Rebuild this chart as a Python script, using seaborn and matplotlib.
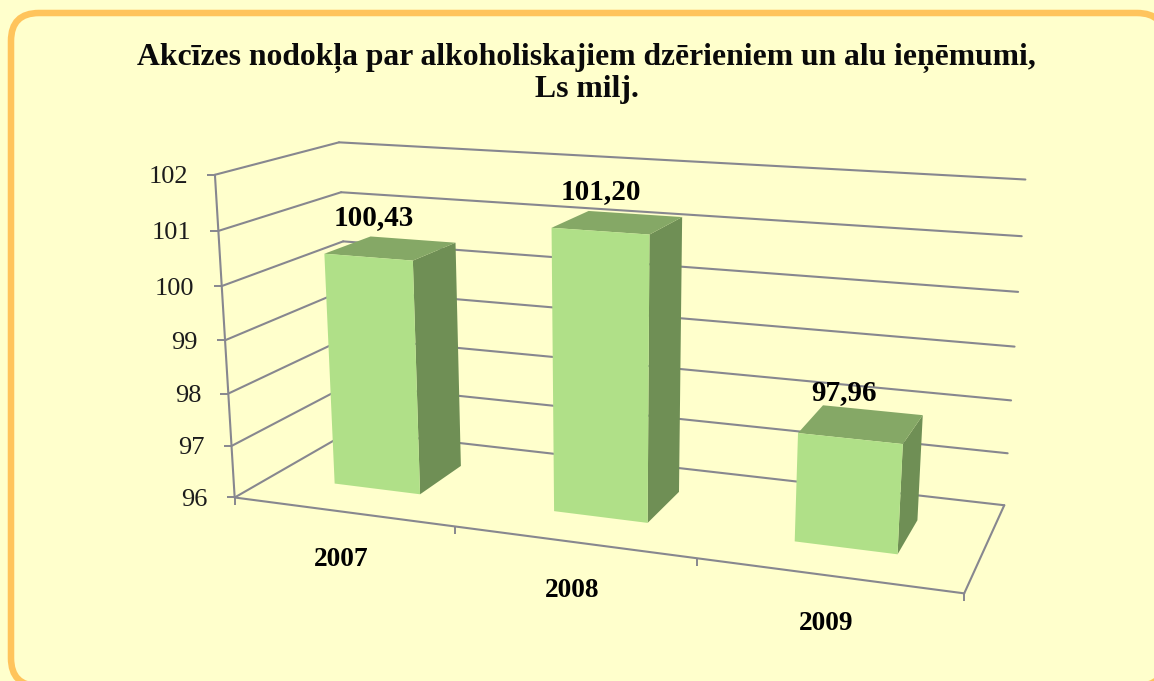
#!/usr/bin/env python
# -*- coding: utf-8 -*-

import numpy as np
import matplotlib
matplotlib.use('Agg')
import matplotlib.pyplot as plt
import matplotlib.transforms as mtransforms
from matplotlib.patches import Rectangle, FancyBboxPatch
import seaborn as sns

## ===================================================================== ##

years = ['2007', '2008', '2009']
revenue = [100.43, 101.20, 97.96]
revenue_labels = ['100,43', '101,20', '97,96']
value_ticks = [96, 97, 98, 99, 100, 101, 102]
title = 'Akcīzes nodokļa par alkoholiskajiem dzērieniem un alu ieņēmumi,\nLs milj.'

W, H = 1154, 681
BG = '#FFFFCC'
GRID = '#87878F'
FRONT, SIDE, TOP = '#B0E088', '#6F8F55', '#85A866'
BOTTOM = value_ticks[0]
BAR_WIDTH = 0.4
DEPTH = (0.3, 0.7)

# camera of the 3D chart: (category, value, depth, 1) -> image pixels
CAMERA = np.array([
	[112.21971097, -2.85861837, 90.05456875, 462.36785141],
	[2.94179602, -31.03636636, -7.30100927, 3260.43629207],
	[-0.02529540, -0.00469675, 0.07029783, 1.0]])

## ===================================================================== ##

class Plane(mtransforms.Transform):
	"""Maps 2D points lying on one plane of the 3D box to display coords."""
	input_dims = 2
	output_dims = 2
	is_separable = False
	has_inverse = False

	def __init__(self, fixed, val):
		super().__init__()
		self.fixed = fixed
		self.val = val

	def transform_non_affine(self, values):
		a, b = np.asarray(values, dtype=float).T
		c = np.full_like(a, self.val)
		if self.fixed == 'depth':
			xyz = [a, b, c]
		elif self.fixed == 'cat':
			xyz = [c, b, a]
		else:
			xyz = [a, c, b]
		h = CAMERA @ np.vstack(xyz + [np.ones_like(a)])
		return np.column_stack([h[0] / h[2], H - h[1] / h[2]])


sns.set_theme(style='white', rc={'figure.facecolor': BG, 'savefig.facecolor': BG})
plt.rcParams['font.family'] = ['Liberation Serif', 'DejaVu Serif']

fig = plt.figure(figsize=(W / 100., H / 100.), dpi=100)
ax = fig.add_axes([0, 0, 1, 1])

sns.barplot(x=years, y=revenue, color=FRONT, saturation=1., width=BAR_WIDTH, ax=ax, zorder=5)
ax.set_xlim(-0.5, 2.5)
ax.set_ylim(BOTTOM, value_ticks[-1])
ax.axis('off')

front = Plane('depth', DEPTH[0])
back_wall = Plane('depth', 1.)
front_edge = Plane('depth', 0.)
left_wall = Plane('cat', -0.5)
floor = Plane('val', BOTTOM)

line_kw = dict(color=GRID, lw=1.5, clip_on=False, solid_capstyle='round', zorder=1)

# walls and floor
for v in value_ticks:
	ax.plot([-0.5, 2.5], [v, v], transform=back_wall, **line_kw)
	ax.plot([0., 1.], [v, v], transform=left_wall, **line_kw)
ax.plot([-0.5, -0.5], [BOTTOM, value_ticks[-1]], transform=front_edge, **line_kw)
ax.plot([-0.5, 2.5], [BOTTOM, BOTTOM], transform=front_edge, **line_kw)
ax.plot([2.5, 2.5], [0., 1.], transform=floor, **line_kw)

# ticks
ax.plot([-0.5] * len(value_ticks), value_ticks, transform=front_edge, ls='none', marker=0,
		ms=5.8, mew=1.4, mec=GRID, clip_on=False, zorder=1)
ax.plot([-0.5, 0.5, 1.5, 2.5], [BOTTOM] * 4, transform=front_edge, ls='none', marker=3,
		ms=5.8, mew=1.4, mec=GRID, clip_on=False, zorder=1)

for v in value_ticks:
	ax.annotate(str(v), xy=(-0.5, v), xycoords=front_edge, xytext=(-19.5, 0.),
				textcoords='offset points', ha='right', va='center_baseline',
				fontsize=19, color='#1C1C1C', annotation_clip=False)

for i, year in enumerate(years):
	ax.annotate(year, xy=(i, BOTTOM), xycoords=front_edge, xytext=(-0.7, -32.5),
				textcoords='offset points', ha='center', va='center_baseline',
				fontsize=19.7, fontweight='bold', color='black', annotation_clip=False)

# bars: seaborn draws the front faces, the other two faces follow from them
for bar, val, label in zip(ax.patches[:len(years)], revenue, revenue_labels):
	x0 = bar.get_x()
	bar.set_y(BOTTOM)
	bar.set_height(val - BOTTOM)
	bar.set_transform(front)
	bar.set_clip_on(False)
	bar.set_edgecolor('none')

	ax.add_patch(Rectangle((DEPTH[0], BOTTOM), DEPTH[1] - DEPTH[0], val - BOTTOM, transform=Plane('cat', x0 + BAR_WIDTH),
						   fc=SIDE, ec='none', clip_on=False, zorder=4))
	ax.add_patch(Rectangle((x0, DEPTH[0]), BAR_WIDTH, DEPTH[1] - DEPTH[0], transform=Plane('val', val),
						   fc=TOP, ec='none', clip_on=False, zorder=4))

	ax.annotate(label, xy=(x0 + BAR_WIDTH / 2., 0.5), xycoords=Plane('val', val), xytext=(-12.5, 24.5),
				textcoords='offset points', ha='center', va='center_baseline',
				fontsize=21, fontweight='bold', color='black', annotation_clip=False, zorder=6)

fig.text(586.5 / W, 1 - 73.5 / H, title, ha='center', va='center', fontsize=22.8, fontweight='bold',
		 color='#0A0A0A', linespacing=1.08)

# rounded frame runs off the right and bottom edges; filled so the corners stay round
fig.add_artist(FancyBboxPatch((11, H - 686), 1154, 673, boxstyle='round,pad=0,rounding_size=28',
							  transform=mtransforms.IdentityTransform(), fc=BG, ec='#FFC45C', lw=4.7, zorder=-1))

fig.savefig('out.png', dpi=100)
